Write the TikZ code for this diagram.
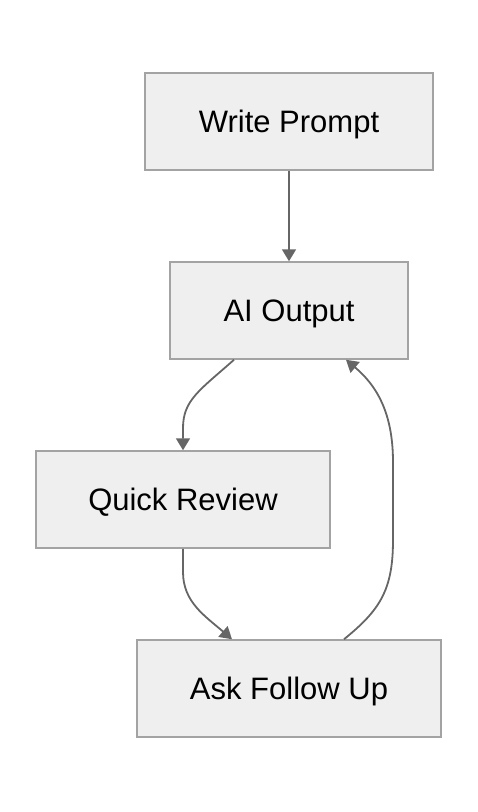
\documentclass[tikz,border=0pt]{standalone}
\usepackage{fontspec}
\setmainfont{Liberation Sans}
\usetikzlibrary{positioning}
\usetikzlibrary{arrows.meta}
\definecolor{boxfill}{HTML}{EFEFEF}
\definecolor{boxline}{HTML}{A3A3A3}
\definecolor{edgeline}{HTML}{666666}

\begin{document}
\begin{tikzpicture}[
  x=1pt, y=-1pt,
  font=\fontsize{31}{37}\selectfont,
  box/.style={draw=boxline, line width=1.5pt, fill=boxfill, align=center, minimum height=97pt, inner sep=0pt, text height=24pt, text depth=2pt},
  arrow/.style={draw=edgeline, line width=1.8pt, -{Triangle[length=12pt, width=14pt]}}
]
\useasboundingbox (0,0) rectangle (478,812);

% Steps
\node[box, minimum width=288pt] (write) at (289,121.5) {Write Prompt};
\node[box, minimum width=238pt] (out) at (289,310.5) {AI Output};
\node[box, minimum width=294pt] (review) at (183,499.5) {Quick Review};
\node[box, minimum width=304pt] (ask) at (289,688.5) {Ask Follow Up};

% Flow
\draw[arrow] (write.south) -- (out.north);
\draw[arrow] ([xshift=-55pt]out.south) .. controls (200,390) and (183,400) .. (183,428) -- (review.north);
\draw[arrow] (review.south) -- (183,572) .. controls (183,602) and (205,616) .. ([xshift=-57pt]ask.north);

% Follow-up loop
\draw[arrow] ([xshift=55pt]ask.north) .. controls (380,610) and (393,590) .. (393,540) -- (393,462) .. controls (393,412) and (376,385) .. ([xshift=57pt]out.south);

\end{tikzpicture}
\end{document}
